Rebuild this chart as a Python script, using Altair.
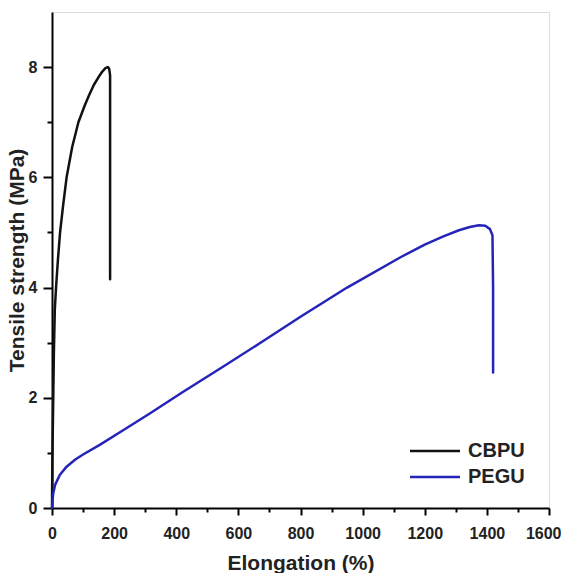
import altair as alt
import pandas as pd

# CBPU curve (elongation %, tensile strength MPa)
cbpu_x = [0, 1, 3, 6, 9, 13, 19, 26, 36, 47, 65, 85, 105, 120, 135, 150, 162, 172, 180, 184, 187, 187, 187]
cbpu_y = [0, 0.8, 1.6, 2.8, 3.6, 4.0, 4.5, 5.0, 5.5, 6.0, 6.55, 7.0, 7.3, 7.5, 7.68, 7.82, 7.92, 7.98, 8.0, 7.97, 7.85, 6.0, 4.15]

# PEGU curve
pegu_x = [0, 2, 4, 10, 25, 47, 75, 100, 155, 220, 316, 420, 558, 680, 800, 950, 1122, 1200, 1260, 1310, 1345, 1374, 1395, 1410, 1418, 1420, 1420]
pegu_y = [0, 0.15, 0.27, 0.42, 0.6, 0.75, 0.88, 0.97, 1.15, 1.38, 1.72, 2.1, 2.59, 3.03, 3.47, 4.0, 4.55, 4.78, 4.93, 5.04, 5.1, 5.13, 5.12, 5.06, 4.95, 4.0, 2.46]

series = ["CBPU", "PEGU"]
colors = ["#111111", "#2424b8"]

x_major = [0, 200, 400, 600, 800, 1000, 1200, 1400, 1600]
x_minor = [100, 300, 500, 700, 900, 1100, 1300, 1500]
y_major = [0, 2, 4, 6, 8]
y_minor = [1, 3, 5, 7]

rows = []
for i, (x, y) in enumerate(zip(cbpu_x, cbpu_y)):
    rows.append({"series": "CBPU", "i": i, "x": x, "y": y})
for i, (x, y) in enumerate(zip(pegu_x, pegu_y)):
    rows.append({"series": "PEGU", "i": i, "x": x, "y": y})
df = pd.DataFrame(rows)

FONT = "Liberation Sans"

xscale = alt.Scale(domain=[0, 1600], nice=False, zero=False)
yscale = alt.Scale(domain=[0, 9], nice=False, zero=False)

last_test = "datum.value == 1600"

lines = alt.Chart(df).mark_line(strokeWidth=2.5, strokeCap="round", strokeJoin="round").encode(
    x=alt.X("x:Q", scale=xscale, axis=alt.Axis(
        values=x_major, format="d", title="Elongation (%)", tickSize=7, tickWidth=2, domainWidth=2,
        domainColor="black", tickColor="black", labelFont=FONT, labelFontSize=16,
        labelFontWeight="bold", labelColor="#222", labelPadding=10, titleFont=FONT,
        titleFontSize=21, titleFontWeight="bold", titleColor="#222", titlePadding=11,
        grid=False, labelFlush=False,
        labelAlign={"condition": {"test": last_test, "value": "right"}, "value": "center"},
        labelOffset={"condition": {"test": last_test, "value": 12}, "value": 0})),
    y=alt.Y("y:Q", scale=yscale, axis=alt.Axis(
        values=y_major, format="d", title="Tensile strength (MPa)", tickSize=9, tickWidth=2, domainWidth=2,
        domainColor="black", tickColor="black", labelFont=FONT, labelFontSize=16,
        labelFontWeight="bold", labelColor="#222", labelPadding=6, titleFont=FONT,
        titleFontSize=21, titleFontWeight="bold", titleColor="#222", titlePadding=1,
        grid=False, labelFlush=False)),
    color=alt.Color("series:N", scale=alt.Scale(domain=series, range=colors), legend=alt.Legend(
        title="", orient="none", legendX=373, legendY=429, symbolType="M-5,0H5",
        symbolSize=100, symbolStrokeWidth=2.5, labelFont=FONT, labelFontSize=20,
        labelFontWeight="bold", labelColor="#222", labelOffset=23, rowPadding=6, padding=0)),
    detail="series:N",
    order="i:Q",
)

minor = alt.Chart(df).mark_point(opacity=0).encode(
    x=alt.X("x:Q", scale=xscale, axis=alt.Axis(
        orient="bottom", values=x_minor, labels=False, domain=False, grid=False,
        tickSize=4, tickWidth=2, tickColor="black", title="")),
    y=alt.Y("y:Q", scale=yscale, axis=alt.Axis(
        orient="left", values=y_minor, labels=False, domain=False, grid=False,
        tickSize=5, tickWidth=2, tickColor="black", title="")),
)

chart = alt.layer(lines, minor).resolve_axis(x="independent", y="independent").properties(
    width=497, height=496,
    autosize=alt.AutoSizeParams(type="none"),
    padding={"left": 44, "top": 4, "right": 13, "bottom": 65},
).configure_view(stroke="black", strokeWidth=2).configure(background="white")

chart.save("out.html", embed_options={"renderer": "svg", "actions": False})
